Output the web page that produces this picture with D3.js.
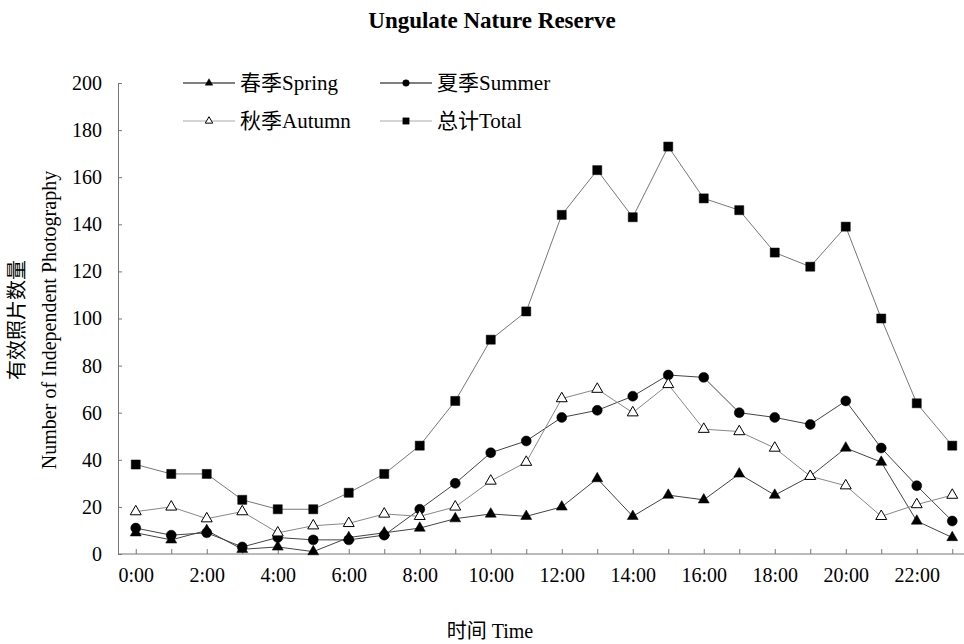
<!DOCTYPE html>
<html><head><meta charset="utf-8">
<script src="https://cdn.jsdelivr.net/npm/d3@7"></script>
<style>body{margin:0;background:#fff;} text{font-family:"Liberation Serif","Times New Roman","Noto Sans CJK SC",serif;fill:#000;}</style>
</head><body><svg id="c" width="964" height="644"></svg>
<script>
const hours = d3.range(0, 24);
const hourLabels = hours.map(h => h + ":00");
const spring = [9,6,10,2,3,1,7,9,11,15,17,16,20,32,16,25,23,34,25,33,45,39,14,7];
const summer = [11,8,9,3,7,6,6,8,19,30,43,48,58,61,67,76,75,60,58,55,65,45,29,14];
const autumn = [18,20,15,18,9,12,13,17,16,20,31,39,66,70,60,72,53,52,45,33,29,16,21,25];
const total  = [38,34,34,23,19,19,26,34,46,65,91,103,144,163,143,173,151,146,128,122,139,100,64,46];
const yTicks = [0,20,40,60,80,100,120,140,160,180,200];
const seriesNames = ["春季Spring","夏季Summer","秋季Autumn","总计Total"];

const svg = d3.select("#c");
const x = d3.scalePoint().domain(hours).range([135.75, 952.25]);
const step = x.step();
const y = d3.scaleLinear().domain([0, 200]).range([554, 83]);

svg.append("text").attr("x", 492).attr("y", 28).attr("text-anchor","middle")
  .style("font-size","23px").style("font-weight","bold").text("Ungulate Nature Reserve");

const axisColor = "#777";
const gx = svg.append("g").attr("transform", `translate(0,${y(0)})`)
  .call(d3.axisBottom(x).tickSizeInner(-5).tickSizeOuter(0).tickPadding(14)
    .tickFormat((d,i) => d % 2 === 0 ? hourLabels[i] : ""));
gx.select(".domain").remove();
gx.append("line").attr("x1", x(0) - step/2).attr("x2", x(23) + step/2).attr("stroke", axisColor);
gx.selectAll(".tick line").attr("stroke", axisColor);
gx.selectAll(".tick text").style("font-size","20px").style("font-family",'"Liberation Serif",serif');

const gy = svg.append("g").attr("transform", `translate(${x(0) - step/2},0)`)
  .call(d3.axisLeft(y).tickValues(yTicks).tickSizeInner(-4).tickSizeOuter(0).tickPadding(16));
gy.select(".domain").attr("stroke", axisColor);
gy.selectAll(".tick line").attr("stroke", axisColor);
gy.selectAll(".tick text").style("font-size","20px").style("font-family",'"Liberation Serif",serif');

svg.append("text").attr("transform","translate(24,320) rotate(-90)").attr("text-anchor","middle")
  .style("font-size","20px").text("有效照片数量");
svg.append("text").attr("transform","translate(56,320) rotate(-90)").attr("text-anchor","middle")
  .style("font-size","20px").text("Number of Independent Photography");
svg.append("text").attr("x", 490).attr("y", 638).attr("text-anchor","middle")
  .style("font-size","20px").text("时间 Time");

const series = [
  {name: seriesNames[0], data: spring, sym: d3.symbolTriangle, size: 52, fill: "#000", line: "#444"},
  {name: seriesNames[1], data: summer, sym: d3.symbolCircle, size: 78, fill: "#000", line: "#444"},
  {name: seriesNames[2], data: autumn, sym: d3.symbolTriangle, size: 52, fill: "#fff", line: "#888"},
  {name: seriesNames[3], data: total, sym: d3.symbolSquare, size: 82, fill: "#000", line: "#777"}
];

const line = d3.line().x((d,i) => x(hours[i])).y(d => y(d));
series.forEach(s => {
  svg.append("path").datum(s.data).attr("d", line).attr("fill","none")
    .attr("stroke", s.line).attr("stroke-width", 1);
});
series.forEach(s => {
  svg.append("g").selectAll("path").data(s.data).join("path")
    .attr("transform", (d,i) => `translate(${x(hours[i])},${y(d)})`)
    .attr("d", d3.symbol().type(s.sym).size(s.size)())
    .attr("fill", s.fill).attr("stroke", "#000").attr("stroke-width", s.fill === "#fff" ? 1 : 0.5);
});

const legPos = [[183,83],[380,83],[183,121],[380,121]];
const legLine = ["#000","#000","#aaa","#aaa"];
const legSize = [24, 34, 24, 40];
series.forEach((s,i) => {
  const [lx, ly] = legPos[i];
  const g = svg.append("g").attr("transform", `translate(${lx},${ly})`);
  g.append("line").attr("x1",0).attr("x2",52).attr("y1",0).attr("y2",0).attr("stroke", legLine[i]);
  g.append("path").attr("transform","translate(26,0)")
    .attr("d", d3.symbol().type(s.sym).size(legSize[i])())
    .attr("fill", s.fill).attr("stroke","#000").attr("stroke-width", s.fill === "#fff" ? 1 : 0.5);
  g.append("text").attr("x", 57).attr("y", 7).style("font-size","21px").text(s.name);
});
</script></body></html>
